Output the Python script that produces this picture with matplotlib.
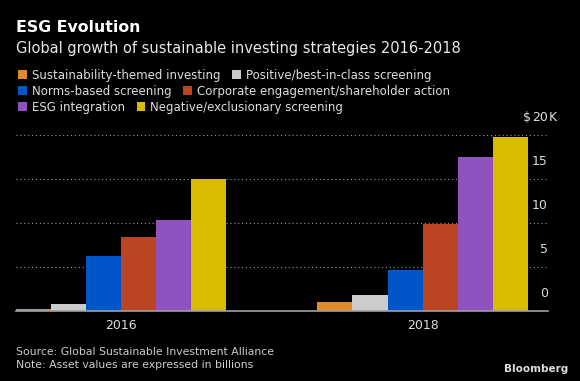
import matplotlib
matplotlib.use('Agg')
import matplotlib.pyplot as plt
import matplotlib.transforms as mtransforms
from matplotlib.patches import Rectangle
import numpy as np

years = ['2016', '2018']
strategies = ['Sustainability-themed investing', 'Positive/best-in-class screening',
              'Norms-based screening', 'Corporate engagement/shareholder action',
              'ESG integration', 'Negative/exclusionary screening']
# asset values in billions, plotted in thousands
values = {
    'Sustainability-themed investing': [276, 1018],
    'Positive/best-in-class screening': [818, 1842],
    'Norms-based screening': [6195, 4679],
    'Corporate engagement/shareholder action': [8365, 9835],
    'ESG integration': [10353, 17544],
    'Negative/exclusionary screening': [15023, 19771],
}
colors = ['#e08a2a', '#cbcbcb', '#0056c8', '#bb4422', '#9052be', '#d9bb00']
yticks = [0, 5, 10, 15, 20]

W, H = 580, 381
fig = plt.figure(figsize=(W / 100, H / 100), dpi=100, facecolor='black')
plt.rcParams['font.family'] = ['DejaVu Sans']

def px(x, y):
    # pixel position (from top-left) to figure fraction
    return x / W, 1 - y / H

renderer = fig.canvas.get_renderer()

def fit(t, width_px):
    bb = t.get_window_extent(renderer)
    t.set_fontsize(t.get_fontsize() * width_px / bb.width)
    return t

ax = fig.add_axes([16 / W, 70 / H, 532 / W, 176 / H])
ax.set_facecolor('black')

x = np.arange(len(years))
bw = 0.1163
for i, (s, c) in enumerate(zip(strategies, colors)):
    ax.bar(x + (i - 2.5) * bw, np.array(values[s]) / 1000, width=bw, color=c, linewidth=0)

ax.set_xlim(-0.3488, 1.416)
ax.set_ylim(0, 20)
ax.set_yticks(yticks)
ax.yaxis.grid(True, color='#9a9a9a', linestyle=(0, (1, 2.5)), linewidth=0.8)
ax.set_axisbelow(True)
for sp in ['top', 'left', 'right']:
    ax.spines[sp].set_visible(False)
ax.spines['bottom'].set_color('#a0a0a0')
ax.spines['bottom'].set_linewidth(1.2)

tick_fs = 9
ax.set_xticks(x)
ax.set_xticklabels(years, color='#dddddd', fontsize=tick_fs)
ax.tick_params(axis='x', length=0, pad=6)
ax.tick_params(axis='y', length=0, pad=0, labelleft=False, labelright=True,
               labelcolor='#dddddd', labelsize=tick_fs)
ax.set_yticklabels([str(v) for v in yticks])
off = mtransforms.ScaledTranslation(0, 8 / 72, fig.dpi_scale_trans)
for lab in ax.get_yticklabels():
    lab.set_ha('right')
    lab.set_va('bottom')
    lab.set_transform(lab.get_transform() + off)

trans = ax.get_yaxis_transform()
ax.annotate('K', xy=(1, 20), xycoords=trans, xytext=(0.5, 8), textcoords='offset points',
            ha='left', va='bottom', color='#dddddd', fontsize=tick_fs, annotation_clip=False)
ax.annotate('$', xy=(1, 20), xycoords=trans, xytext=(-12.5, 8), textcoords='offset points',
            ha='right', va='bottom', color='#dddddd', fontsize=tick_fs, annotation_clip=False)

# titles
t = fig.text(*px(16, 28), 'ESG Evolution', color='white', fontweight='bold',
             fontsize=11, va='center', ha='left')
fit(t, 123)
t = fig.text(*px(16, 48), 'Global growth of sustainable investing strategies 2016-2018',
             color='#e8e8e8', fontsize=11, va='center', ha='left')
fit(t, 445)

# legend, flowing rows
rows = [[0, 1], [2, 3], [4, 5]]
row_y = [75, 91, 107]
probe = fig.text(0, 0, strategies[0], fontsize=9)
fit(probe, 186)
leg_fs = probe.get_fontsize()
probe.remove()
for r, yy in zip(rows, row_y):
    xx = 18
    for i in r:
        fig.patches.append(Rectangle(px(xx, yy + 4), 8.5 / W, 8.5 / H, transform=fig.transFigure,
                                     facecolor=colors[i], edgecolor='none'))
        tt = fig.text(*px(xx + 13.5, yy), strategies[i], color='#dddddd', fontsize=leg_fs,
                      va='center', ha='left')
        bb = tt.get_window_extent(renderer)
        xx = bb.x1 + 12

# footer
t = fig.text(*px(16, 352), 'Source: Global Sustainable Investment Alliance', color='#cccccc',
             fontsize=9, va='center', ha='left')
fit(t, 258)
fs_src = t.get_fontsize()
fig.text(*px(16, 364.5), 'Note: Asset values are expressed in billions', color='#cccccc',
         fontsize=fs_src, va='center', ha='left')
t = fig.text(*px(568, 369), 'Bloomberg', color='#dddddd', fontweight='bold',
             fontsize=9, va='center', ha='right')
fit(t, 63)

fig.savefig('out.png', dpi=100, facecolor='black')
